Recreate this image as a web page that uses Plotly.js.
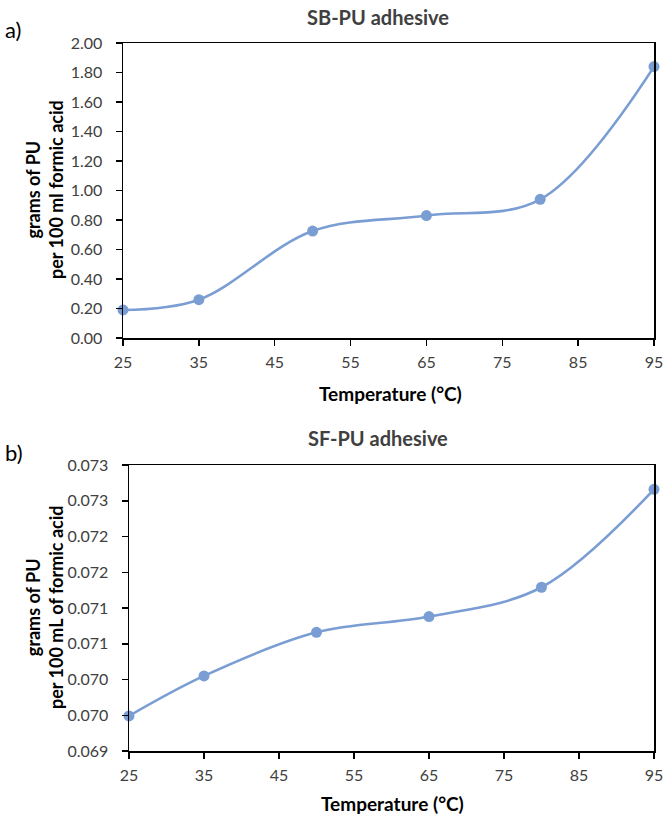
<!DOCTYPE html>
<html>
<head>
<meta charset="utf-8">
<script src="https://cdn.plot.ly/plotly-3.0.1.min.js"></script>
<style>html,body{margin:0;padding:0;background:#fff;}#chart{width:668px;height:816px;}</style>
</head>
<body>
<div id="chart"></div>
<script>
// Data
const temperature = [25, 35, 50, 65, 80, 95];
const sbPU = [0.19, 0.26, 0.725, 0.83, 0.94, 1.84];
const sfPU = [0.06949, 0.07005, 0.07066, 0.07088, 0.07129, 0.07266];
const xTicks = [25, 35, 45, 55, 65, 75, 85, 95];
const sfTickVals = [0.069, 0.0695, 0.070, 0.0705, 0.071, 0.0715, 0.072, 0.0725, 0.073];
const sfTickText = ["0.069", "0.070", "0.070", "0.071", "0.071", "0.072", "0.072", "0.073", "0.073"];

const W = 668, H = 816;
const px = x => x / W;
const py = y => 1 - y / H;
const blue = "rgb(122,158,212)";
const FONT = "Lato, 'Open Sans', sans-serif";
const tickFont = {family: FONT, size: 16, color: "#404040"};

const traceStyle = {
  mode: "lines+markers",
  line: {shape: "spline", smoothing: 1, color: blue, width: 2.6},
  marker: {color: blue, size: 11},
  cliponaxis: false,
  showlegend: false
};

const data = [
  Object.assign({x: temperature, y: sbPU, xaxis: "x", yaxis: "y"}, traceStyle),
  Object.assign({x: temperature, y: sfPU, xaxis: "x2", yaxis: "y2"}, traceStyle)
];

const axisCommon = {
  showline: true, mirror: true, linecolor: "#000", linewidth: 1.5,
  showgrid: false, zeroline: false, ticks: "outside", ticklen: 6,
  tickcolor: "#000", tickwidth: 1.5, tickfont: tickFont, fixedrange: true
};

const layout = {
  width: W, height: H,
  margin: {l: 0, r: 0, t: 0, b: 0},
  paper_bgcolor: "#fff", plot_bgcolor: "#fff",
  xaxis: Object.assign({}, axisCommon, {
    domain: [px(123), px(654)], anchor: "y", range: [25, 95],
    tickvals: xTicks, ticklabelstandoff: 3
  }),
  yaxis: Object.assign({}, axisCommon, {
    domain: [py(338), py(43)], anchor: "x", range: [0, 2],
    dtick: 0.2, tick0: 0, tickformat: ".2f", ticklabelstandoff: 10
  }),
  xaxis2: Object.assign({}, axisCommon, {
    domain: [px(129), px(654)], anchor: "y2", range: [25, 95],
    tickvals: xTicks, ticklabelstandoff: 3
  }),
  yaxis2: Object.assign({}, axisCommon, {
    domain: [py(751), py(465)], anchor: "x2", range: [0.069, 0.073],
    tickvals: sfTickVals, ticktext: sfTickText, ticklabelstandoff: 10
  }),
  annotations: [
    {text: "a)", x: px(3), y: py(30), xanchor: "left", yanchor: "middle",
     font: {family: FONT, size: 22, color: "#000"}},
    {text: "<b>SB-PU adhesive</b>", x: px(378), y: py(17), xanchor: "center", yanchor: "middle",
     font: {family: FONT, size: 20, color: "#404040"}},
    {text: "<b>Temperature (°C)</b>", x: px(390), y: py(393), xanchor: "center", yanchor: "middle",
     font: {family: FONT, size: 19, color: "#000"}},
    {text: "<b>grams of PU<br>per 100 ml formic acid</b>", x: px(44), y: py(190), textangle: -90,
     xanchor: "center", yanchor: "middle",
     font: {family: FONT, size: 18, color: "#000"}},
    {text: "b)", x: px(3), y: py(452), xanchor: "left", yanchor: "middle",
     font: {family: FONT, size: 22, color: "#000"}},
    {text: "<b>SF-PU adhesive</b>", x: px(378), y: py(438), xanchor: "center", yanchor: "middle",
     font: {family: FONT, size: 20, color: "#404040"}},
    {text: "<b>Temperature (°C)</b>", x: px(393), y: py(803), xanchor: "center", yanchor: "middle",
     font: {family: FONT, size: 19, color: "#000"}},
    {text: "<b>grams of PU<br>per 100 mL of formic acid</b>", x: px(44), y: py(608), textangle: -90,
     xanchor: "center", yanchor: "middle",
     font: {family: FONT, size: 18, color: "#000"}}
  ].map(a => Object.assign({xref: "paper", yref: "paper", showarrow: false}, a))
};

Plotly.newPlot("chart", data, layout, {displayModeBar: false, staticPlot: true});
</script>
</body>
</html>
